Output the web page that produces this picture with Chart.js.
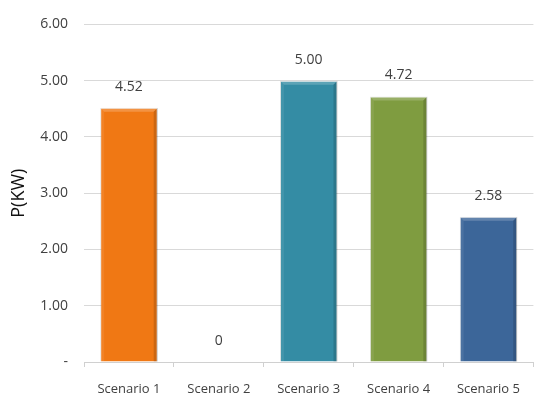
<!DOCTYPE html>
<html>
<head>
<meta charset="utf-8">
<script src="https://cdn.jsdelivr.net/npm/chart.js@4"></script>
<style>
	body { margin: 0; background: #fff; }
	#wrap { width: 534px; height: 396px; }
</style>
</head>
<body>
<div id="wrap"><canvas id="chart" width="534" height="396"></canvas></div>
<script>
// 資料
var scenarios = ['Scenario 1', 'Scenario 2', 'Scenario 3', 'Scenario 4', 'Scenario 5'];
var power = [4.52, 0, 5.00, 4.72, 2.58];
var powerLabels = ['4.52', '0', '5.00', '4.72', '2.58'];
var barColors = ['#F07814', '#F07814', '#348CA4', '#7F9C40', '#3C6699'];
var yMax = 6;

// 柱子上方數值
var valueLabels = {
	id: 'valueLabels',
	afterDatasetsDraw(c) {
		var ctx = c.ctx;
		var meta = c.getDatasetMeta(0);
		ctx.save();
		ctx.font = '14px "Open Sans", "DejaVu Sans", sans-serif';
		ctx.fillStyle = '#404040';
		ctx.textAlign = 'center';
		ctx.textBaseline = 'middle';
		meta.data.forEach((bar, i) => {
			ctx.fillText(powerLabels[i], bar.x, bar.y - 21);
		});
		ctx.restore();
	}
};

// 立體邊框效果
var bevel = {
	id: 'bevel',
	afterDatasetsDraw(c) {
		var ctx = c.ctx;
		var meta = c.getDatasetMeta(0);
		ctx.save();
		meta.data.forEach(bar => {
			var w = bar.width;
			var l = bar.x - w / 2, r = bar.x + w / 2;
			var t = bar.y, b = bar.base;
			if(b - t < 2) return;
			var d = 4;
			// 上
			ctx.fillStyle = 'rgba(255,255,255,0.20)';
			ctx.beginPath();
			ctx.moveTo(l, t); ctx.lineTo(r, t); ctx.lineTo(r - d, t + d); ctx.lineTo(l + d, t + d);
			ctx.fill();
			// 左
			ctx.fillStyle = 'rgba(255,255,255,0.08)';
			ctx.beginPath();
			ctx.moveTo(l, t); ctx.lineTo(l + d, t + d); ctx.lineTo(l + d, b); ctx.lineTo(l, b);
			ctx.fill();
			// 右
			ctx.fillStyle = 'rgba(0,0,0,0.15)';
			ctx.beginPath();
			ctx.moveTo(r, t); ctx.lineTo(r - d, t + d); ctx.lineTo(r - d, b); ctx.lineTo(r, b);
			ctx.fill();
		});
		ctx.restore();
	}
};

new Chart(document.getElementById('chart'), {
	type: 'bar',
	data: {
		labels: scenarios,
		datasets: [{
			data: power,
			backgroundColor: barColors,
			borderColor: 'rgba(0,0,0,0.12)',
			borderWidth: 1,
			categoryPercentage: 1,
			barPercentage: 0.64,
		}]
	},
	options: {
		responsive: false,
		animation: false,
		layout: { padding: { top: 21, right: 0, left: 0, bottom: 0 } },
		plugins: {
			legend: { display: false },
			tooltip: { enabled: false },
		},
		scales: {
			x: {
				grid: { display: true, drawOnChartArea: false, drawTicks: true, tickLength: 5, color: '#d0d0d0', offset: true },
				border: { color: '#d0d0d0' },
				ticks: { color: '#404040', font: { family: '"Open Sans", "DejaVu Sans", sans-serif', size: 13 }, padding: 14 },
				afterFit: s => { s.height = 34; },
			},
			y: {
				min: 0,
				max: yMax,
				ticks: {
					stepSize: 1,
					color: '#404040',
					padding: 16,
					font: { family: '"Open Sans", "DejaVu Sans", sans-serif', size: 14 },
					callback: v => v === 0 ? '-' : v.toFixed(2),
				},
				grid: { color: '#d9d9d9', drawTicks: false },
				border: { display: false },
				title: {
					display: true,
					text: 'P(KW)',
					color: '#111',
					font: { family: '"Open Sans", "DejaVu Sans", sans-serif', size: 18 },
					padding: { top: 8, bottom: 6 },
				},
				afterFit: s => { s.width = 84; },
			}
		}
	},
	plugins: [valueLabels, bevel]
});
</script>
</body>
</html>
